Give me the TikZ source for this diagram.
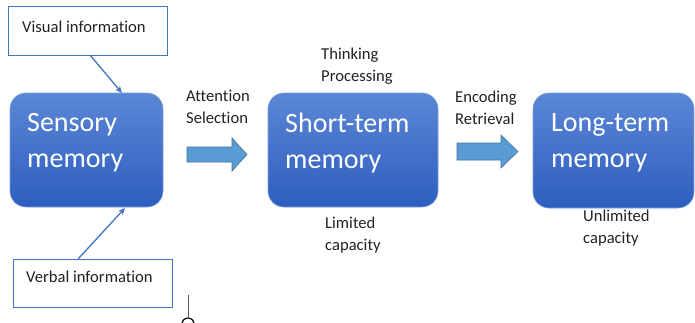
\documentclass[tikz,border=0pt]{standalone}
\usepackage{fontspec}
\setmainfont{Carlito}[Ligatures={NoCommon}]
\usetikzlibrary{arrows.meta}
\definecolor{boxtop}{HTML}{5B87D6}
\definecolor{boxbot}{HTML}{2D5DBE}
\definecolor{arrfill}{HTML}{5B9BD5}
\definecolor{arredge}{HTML}{41719C}
\definecolor{linkblue}{HTML}{4472C4}
\definecolor{txt}{HTML}{222222}
\tikzset{
  memorybox/.style={rounded corners=16pt, top color=boxtop, bottom color=boxbot, draw=boxtop!80!white, line width=0.6pt},
  memtext/.style={anchor=west, align=left, text=white, font=\fontsize{28}{36}\selectfont, inner sep=0pt},
  infobox/.style={draw=linkblue, line width=1pt, fill=white},
  label/.style={anchor=west, align=left, text=txt, font=\fontsize{16.6}{22}\selectfont, inner sep=0pt},
  link/.style={draw=linkblue, line width=1.3pt, -{Stealth[length=7pt,width=6pt]}},
  blockarrow/.style={fill=arrfill, draw=arredge, line width=0.6pt}
}
\begin{document}
\begin{tikzpicture}[x=1pt,y=-1pt]
\useasboundingbox[fill=white] (0,0) rectangle (695,322);
% memory boxes
\path[memorybox] (10,93) rectangle (163,207);
\node[memtext] (smt) at (27,143) {Sensory\\memory};
\path[memorybox] (268,93) rectangle (438,207);
\node[memtext] (stt) at (285,143) {Short-term\\memory};
\path[memorybox] (533,93) rectangle (694,208);
\node[memtext] (ltt) at (551,143) {Long-term\\memory};
\coordinate (smtop) at (122,93);
\coordinate (smbot) at (125,208);
% info boxes
\path[infobox] (8,6) rectangle (167,55);
\node[label] (vis) at (22,27) {Visual information};
\coordinate (visb) at (90,55);
\path[infobox] (13,259) rectangle (172,307);
\node[label] (verb) at (26,277) {Verbal information};
\coordinate (verbt) at (78,259);
\draw[link] (visb) -- (smtop);
\draw[link] (verbt) -- (smbot);
% block arrows
\draw[blockarrow] (187,147) -- (232,147) -- (232,138) -- (247,154.5) -- (232,171) -- (232,162) -- (187,162) -- cycle;
\draw[blockarrow] (457,143) -- (501,143) -- (501,135) -- (518,151.5) -- (501,168) -- (501,160) -- (457,160) -- cycle;
% labels
\node[label] (att) at (186,107) {Attention\\Selection};
\node[label] (thk) at (321,66) {Thinking\\Processing};
\node[label] (enc) at (455,108) {Encoding\\Retrieval};
\node[label] (lim) at (325,235) {Limited\\capacity};
\node[label] (unl) at (583,228) {Unlimited\\capacity};
% stray glyph at bottom
\draw[gray!70!black, line width=0.8pt] (188,295) -- (188,317);
\draw[black, line width=1.2pt] (188,324) circle[radius=6];
\end{tikzpicture}
\end{document}
